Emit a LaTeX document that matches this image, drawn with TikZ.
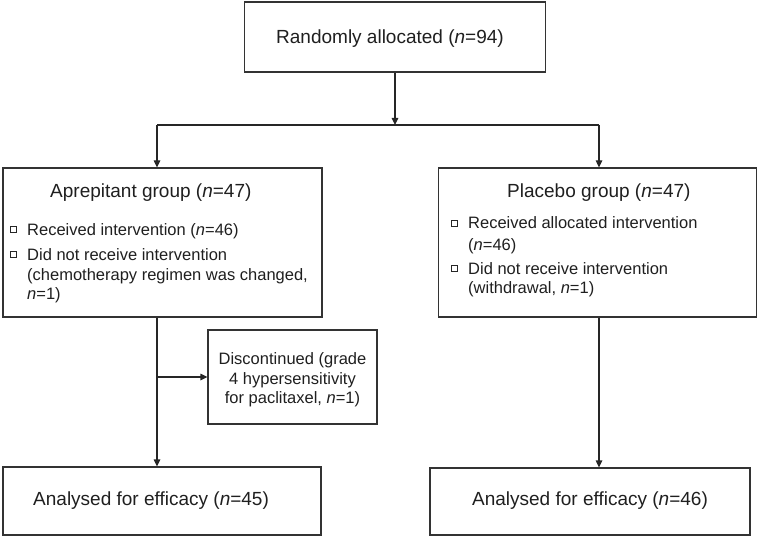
\documentclass[tikz,border=0pt]{standalone}
\usepackage{fontspec}
\setmainfont{Liberation Sans}
\usetikzlibrary{arrows.meta}
\begin{document}
\begin{tikzpicture}[x=1pt,y=-1pt,
  box/.style={draw=black!80, line width=1.2pt, inner sep=0pt},
  conn/.style={draw=black!85, line width=1.2pt},
  arr/.style={conn, -{Triangle[length=7pt,width=6.5pt]}},
  head/.style={font=\fontsize{19}{22}\selectfont, text=black!88, inner sep=0pt, anchor=base west},
  item/.style={font=\fontsize{16.5}{20}\selectfont, text=black!88, inner sep=0pt, anchor=base west},
  citem/.style={item, anchor=base},
  bul/.style={draw=black!85, line width=0.6pt, minimum size=5.5pt, inner sep=0pt}]
\useasboundingbox (0,0) rectangle (759,537);

% boxes
\node[box, minimum width=301pt, minimum height=70pt] (top) at (395,37) {};
\node[box, minimum width=319pt, minimum height=149pt] (left) at (162.5,242.5) {};
\node[box, minimum width=318pt, minimum height=149pt] (right) at (597.5,242.5) {};
\node[box, minimum width=169pt, minimum height=94pt] (disc) at (292.5,377) {};
\node[box, minimum width=318pt, minimum height=68pt] (bl) at (162,501) {};
\node[box, minimum width=320pt, minimum height=67pt] (br) at (590,501.5) {};

% texts
\node[head, anchor=base] (ttop) at (390,44) {Randomly allocated (\textit{n}=94)};

\node[head] (thl) at (50,197) {Aprepitant group (\textit{n}=47)};
\node[bul] (bl1) at (13.5,229.5) {};
\node[item] (tl1) at (27,235) {Received intervention (\textit{n}=46)};
\node[bul] (bl2) at (13.5,254.5) {};
\node[item] (tl2) at (27,260) {Did not receive intervention};
\node[item] (tl3) at (27,280) {(chemotherapy regimen was changed,};
\node[item] (tl4) at (27,299) {\textit{n}=1)};

\node[head] (thr) at (507,197) {Placebo group (\textit{n}=47)};
\node[bul] (br1) at (454.5,223.5) {};
\node[item] (tr1) at (468,229) {Received allocated intervention};
\node[item] (tr2) at (468,250) {(\textit{n}=46)};
\node[bul] (br2) at (454.5,268.5) {};
\node[item] (tr3) at (468,274) {Did not receive intervention};
\node[item] (tr4) at (468,293) {(withdrawal, \textit{n}=1)};

\node[citem] (td1) at (292.5,364) {Discontinued (grade};
\node[citem] (td2) at (292.5,384) {4 hypersensitivity};
\node[citem] (td3) at (292.5,403) {for paclitaxel, \textit{n}=1)};

\node[head] (tbl) at (33,505) {Analysed for efficacy (\textit{n}=45)};
\node[head, anchor=base] (tbr) at (590,505) {Analysed for efficacy (\textit{n}=46)};

% connectors
\coordinate (jn) at (395,125);
\coordinate (jl) at (157,125);
\coordinate (jr) at (599,125);
\draw[arr] (top.south) -- (jn);
\draw[conn] (jl) -- (jr);
\draw[arr] (jl) -- (jl |- left.north);
\draw[arr] (jr) -- (jr |- right.north);
\draw[arr] (jl |- left.south) -- (jl |- bl.north);
\draw[arr] (jl |- disc.west) -- (disc.west);
\draw[arr] (jr |- right.south) -- (jr |- br.north);
\end{tikzpicture}
\end{document}
